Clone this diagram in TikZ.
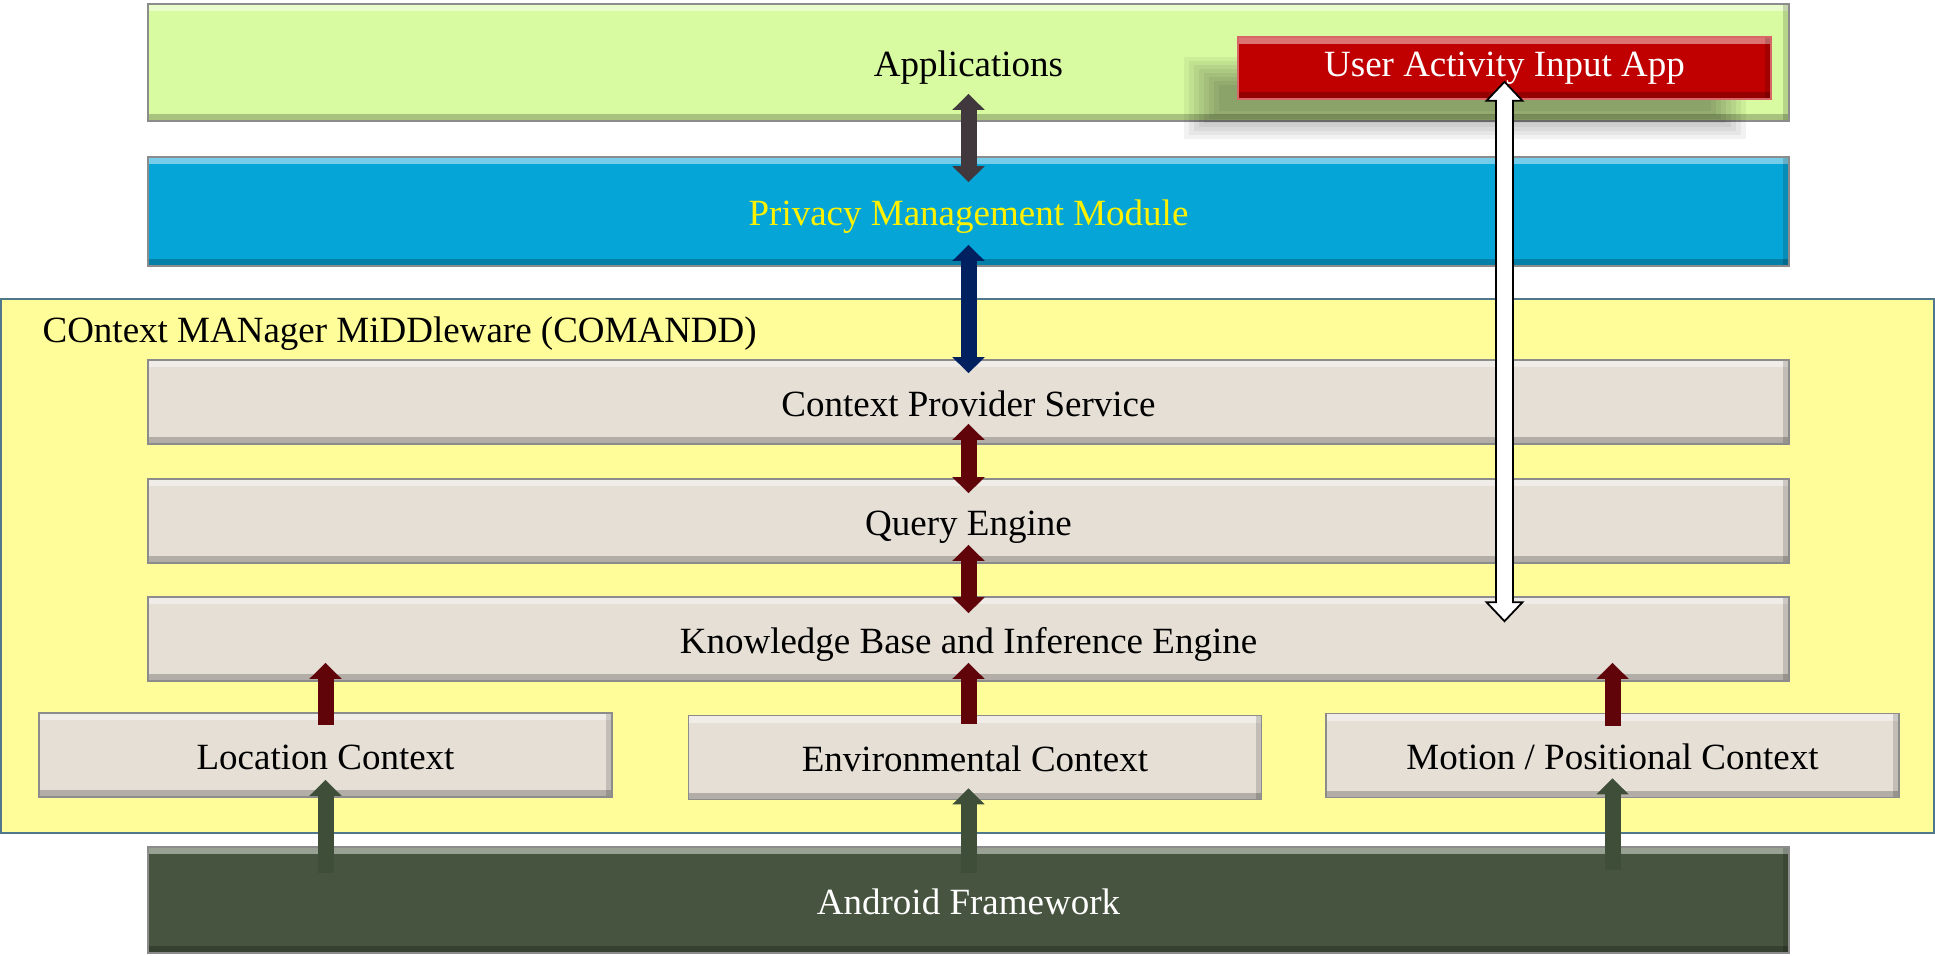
\documentclass[tikz,border=0pt]{standalone}
\usepackage{fontspec}
\setmainfont{Liberation Serif}
\usetikzlibrary{arrows.meta,calc}
\definecolor{appgreen}{RGB}{216,251,162}
\definecolor{privblue}{RGB}{6,165,216}
\definecolor{ctxyellow}{RGB}{255,253,153}
\definecolor{ctxborder}{RGB}{80,120,140}
\definecolor{boxgray}{RGB}{229,223,214}
\definecolor{droidgreen}{RGB}{71,84,63}
\definecolor{uaared}{RGB}{192,0,0}
\definecolor{arrgray}{RGB}{64,56,60}
\definecolor{arrnavy}{RGB}{0,32,96}
\definecolor{arrred}{RGB}{96,4,10}
\definecolor{arrgreen}{RGB}{62,78,56}

\begin{document}
\begin{tikzpicture}[x=0.5pt, y=-0.5pt,
  font=\fontsize{18.5}{22}\selectfont,
  bevel/.style={path picture={
    \fill[white, opacity=0.45] (path picture bounding box.north west) rectangle ([yshift=-3.5pt]path picture bounding box.north east);
    \fill[black, opacity=0.22] (path picture bounding box.south west) rectangle ([yshift=3.5pt]path picture bounding box.south east);
    \fill[black, opacity=0.15] (path picture bounding box.south east) rectangle ([xshift=-3pt]path picture bounding box.north east);}},
  layer/.style={draw=black!45, line width=0.8pt, inner sep=0pt, minimum width=820.5pt,
                text height=14pt, text depth=0pt, bevel},
  ctxbox/.style={layer, fill=boxgray, minimum height=42pt},
  sidebox/.style={ctxbox, minimum width=286.5pt},
  biarrow/.style={line width=8pt, {Triangle[length=8pt,width=16pt,line width=0.4pt]}-{Triangle[length=8pt,width=16pt,line width=0.4pt]}},
  uparrow/.style={line width=8pt, -{Triangle[length=8pt,width=16pt,line width=0.4pt]}}
]
  \useasboundingbox (0,0) rectangle (1935,955);

  % layers
  \node[layer, fill=appgreen, minimum height=58.5pt] (app) at (968.5,62.5) {Applications};
  \coordinate (uaac) at (1504.5,68);
  \foreach \b in {0,...,7}
    \fill[black, opacity=0.05] ($(uaac)+(-321+5*\b,-11+4*\b)$) rectangle ($(uaac)+(241-5*\b,71-4*\b)$);
  \node[draw=uaared!60!white, line width=0.8pt, fill=uaared, text=white, inner sep=0pt,
        minimum width=266.5pt, minimum height=31pt, bevel] (uaa) at (uaac) {User Activity Input App};
  \node[layer, fill=privblue, text=yellow, minimum height=54.5pt] (priv) at (968.5,211.5) {Privacy Management Module};

  % middleware
  \node[draw=ctxborder, line width=0.8pt, fill=ctxyellow, inner sep=0pt,
        minimum width=966.5pt, minimum height=267pt] (comandd) at (967.5,566) {};
  \node[anchor=west, inner sep=0pt] (comlabel) at ([xshift=21pt, yshift=-17.5pt]comandd.north west) {COntext MANager MiDDleware (COMANDD)};
  \node[ctxbox] (cps) at (968.5,402) {Context Provider Service};
  \node[ctxbox] (qe) at (968.5,521) {Query Engine};
  \node[ctxbox] (kb) at (968.5,639) {Knowledge Base and Inference Engine};
  \node[sidebox] (loc) at (325.5,755) {Location Context};
  \node[sidebox] (env) at (975,757.5) {Environmental Context};
  \node[sidebox] (mot) at (1612.5,755.5) {Motion / Positional Context};

  \node[layer, fill=droidgreen, text=white, minimum height=53pt] (android) at (968.5,900) {Android Framework};

  % arrows
  \draw[biarrow, arrgray, shorten <=-14pt, shorten >=-13pt] (app.south) -- (priv.north);
  \draw[biarrow, arrnavy, shorten <=-11pt, shorten >=-7pt] (priv.south) -- (cps.north);
  \draw[biarrow, arrred, shorten <=-10.5pt, shorten >=-7.5pt] (cps.south) -- (qe.north);
  \draw[biarrow, arrred, shorten <=-9.5pt, shorten >=-8.5pt] (qe.south) -- (kb.north);

  \draw[uparrow, arrred, shorten <=-6.5pt, shorten >=-9.5pt] (loc.north) -- (loc.north |- kb.south);
  \draw[uparrow, arrred, shorten <=-4.5pt, shorten >=-9.5pt] (env.north -| kb.south) -- (kb.south);
  \draw[uparrow, arrred, shorten <=-6.5pt, shorten >=-9.5pt] (mot.north) -- (mot.north |- kb.south);

  \draw[uparrow, arrgreen, shorten <=-13.5pt, shorten >=-9pt] (android.north -| loc.south) -- (loc.south);
  \draw[uparrow, arrgreen, shorten <=-13.5pt, shorten >=-6pt] (android.north) -- (android.north |- env.south);
  \draw[uparrow, arrgreen, shorten <=-12pt, shorten >=-10pt] (android.north -| mot.south) -- (mot.south);

  % user input arrow
  \coordinate (wtop) at ([yshift=9pt]uaa.south);
  \coordinate (wbot) at ([yshift=-12.5pt]uaa.south |- kb.north);
  \draw[fill=white, line width=0.9pt, line join=miter]
    (wtop) -- ++(18,19) -- ++(-9.5,0) -- ($(wbot)+(8.5,-19)$) -- ++(9.5,0) -- (wbot)
    -- ++(-18,-19) -- ++(9.5,0) -- ($(wtop)+(-8.5,19)$) -- ++(-9.5,0) -- cycle;
\end{tikzpicture}
\end{document}
